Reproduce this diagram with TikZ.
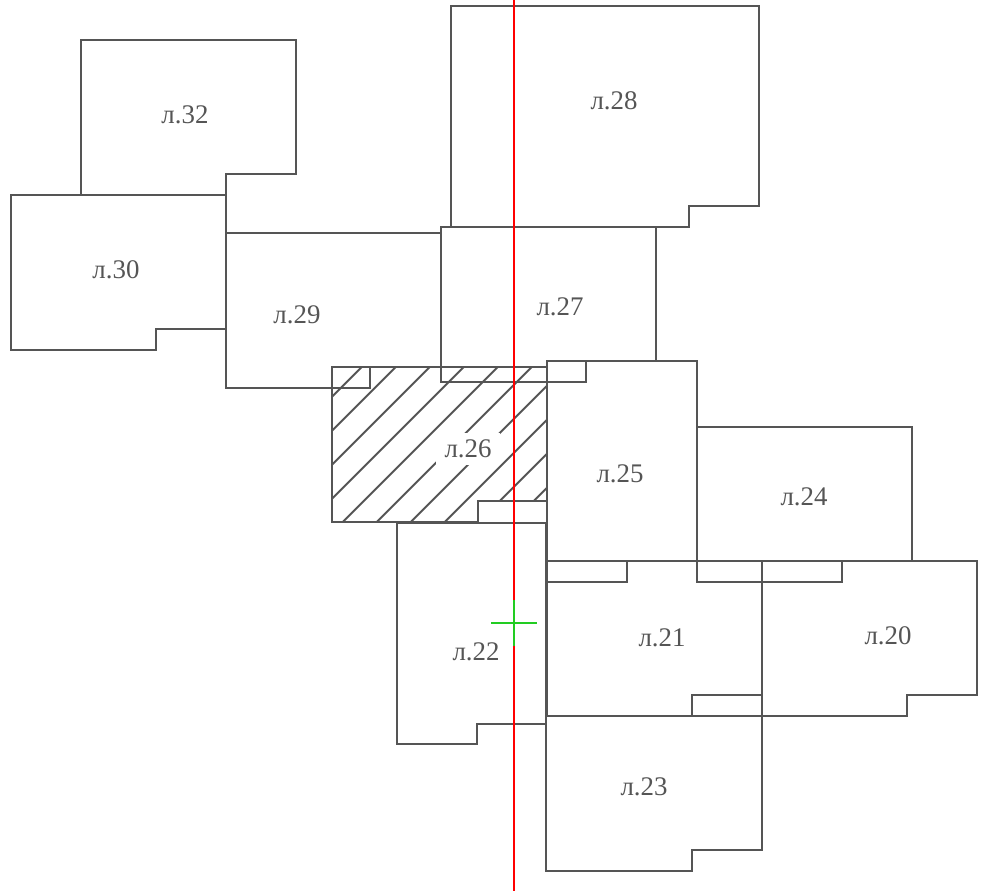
\documentclass[tikz,border=0pt]{standalone}
\usepackage{fontspec}
\setmainfont{Liberation Serif}
\usepackage{xcolor}
\definecolor{sheetgray}{HTML}{555555}
\definecolor{crossgreen}{HTML}{22CC22}

% one map sheet: x1, y1 (top left), x2 (right), yn, xn (notch), y2 (bottom)
\newcommand{\mapsheet}[6]{%
  \draw[sheet] (#1,#2) -- (#3,#2) -- (#3,#4) -- (#5,#4) -- (#5,#6) -- (#1,#6) -- cycle;}

\begin{document}
\begin{tikzpicture}[
    x=0.02cm, y=-0.02cm,
    sheet/.style={draw=sheetgray, line width=1.3pt, line join=miter},
    hatch/.style={draw=sheetgray, line width=1.1pt},
    label/.style={font=\fontsize{15.3}{18}\selectfont, text=sheetgray}
]
\useasboundingbox (0,0) rectangle (989,891);

% Hatching of sheet 26
\begin{scope}
  \clip (332,367) -- (547,367) -- (547,501) -- (478,501) -- (478,522) -- (332,522) -- cycle;
  \foreach \k in {0,...,9} {
    \pgfmathsetmacro{\c}{728.7+34*\k}
    \draw[hatch] (\c-550,550) -- (\c-350,350);
  }
\end{scope}
\node[label, fill=white, inner xsep=5pt, inner ysep=4pt] (l26) at (468,449) {л.26};

% Sheet outlines
\mapsheet{81}{40}{296}{174}{226}{195}
\mapsheet{11}{195}{226}{329}{156}{350}
\mapsheet{226}{233}{441}{367}{370}{388}
\mapsheet{451}{6}{759}{206}{689}{227}
\mapsheet{441}{227}{656}{361}{586}{382}
\mapsheet{332}{367}{547}{501}{478}{522}
\mapsheet{547}{361}{697}{561}{627}{582}
\mapsheet{697}{427}{912}{561}{842}{582}
\mapsheet{397}{523}{546}{724}{477}{744}
\mapsheet{547}{561}{762}{695}{692}{716}
\mapsheet{762}{561}{977}{695}{907}{716}
\mapsheet{546}{716}{762}{850}{692}{871}

% Sheet numbers
\foreach \n/\x/\y in {32/185/115, 30/116/270, 29/297/315, 28/614/101,
                      27/560/307, 25/620/474, 24/804/497, 22/476/652,
                      21/662/638, 20/888/636, 23/644/787}
  \node[label] (l\n) at (\x,\y) {л.\n};

% Meridian and centre mark
\coordinate (mtop) at (514,0);
\coordinate (mbot) at (514,891);
\draw[red, line width=1.1pt] (mtop) -- (mbot);
\coordinate (ctr) at (514,623);
\draw[crossgreen, line width=1.1pt]
    ([xshift=-23*0.02cm]ctr) -- ([xshift=23*0.02cm]ctr)
    ([yshift=23*0.02cm]ctr) -- ([yshift=-23*0.02cm]ctr);

\end{tikzpicture}
\end{document}
